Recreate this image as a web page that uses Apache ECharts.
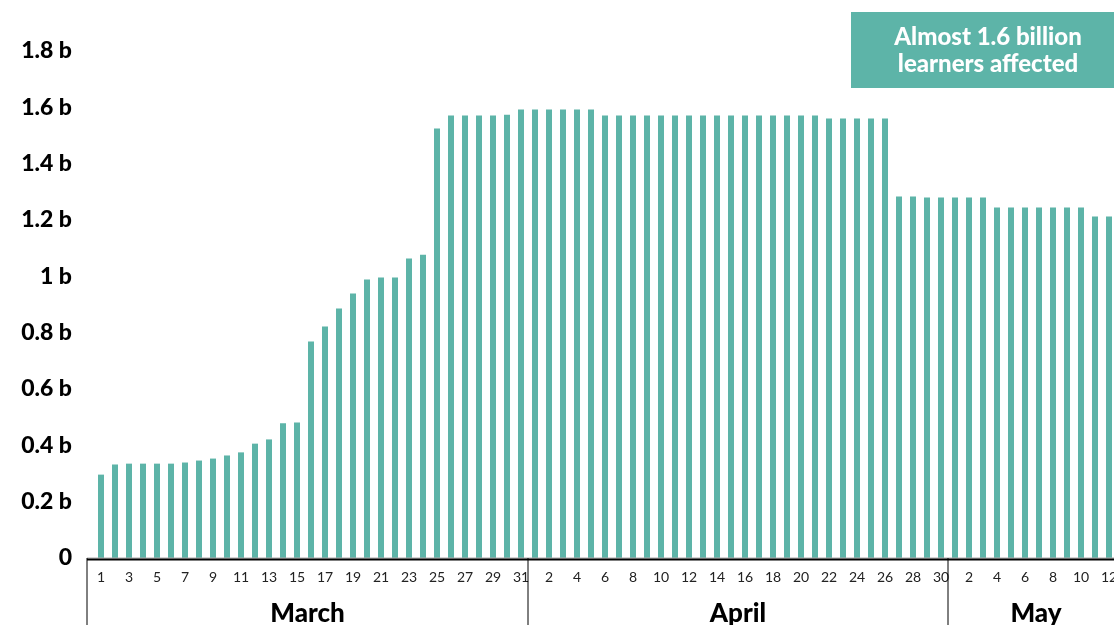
<!DOCTYPE html>
<html>
<head>
<meta charset="utf-8">
<script src="https://cdn.jsdelivr.net/npm/echarts@6/dist/echarts.min.js"></script>
<style>
html,body{margin:0;padding:0;background:#fff;}
#chart{width:1114px;height:625px;}
</style>
</head>
<body>
<div id="chart"></div>
<script>
// ---- data (billions of learners affected) ----
const months = ['March', 'April', 'May'];
const marchValues = [0.296,0.332,0.335,0.335,0.335,0.335,0.339,0.346,0.353,0.364,0.375,0.406,0.421,0.478,0.481,0.769,0.822,0.886,0.939,0.989,0.996,0.996,1.063,1.077,1.525,1.571,1.571,1.571,1.571,1.574,1.592];
const aprilValues = [1.592,1.592,1.592,1.592,1.592,1.571,1.571,1.571,1.571,1.571,1.571,1.571,1.571,1.571,1.571,1.571,1.571,1.571,1.571,1.571,1.571,1.560,1.560,1.560,1.560,1.560,1.283,1.283,1.280,1.280];
const mayValues = [1.280,1.280,1.280,1.244,1.244,1.244,1.244,1.244,1.244,1.244,1.212,1.212];
const yTicks = [0, 0.2, 0.4, 0.6, 0.8, 1, 1.2, 1.4, 1.6, 1.8];
const annotationText = 'Almost 1.6 billion\nlearners affected';

const monthSeries = [marchValues, aprilValues, mayValues];
const categories = [];   // day numbers
const monthIndex = [];   // month of each category
const values = [];
monthSeries.forEach((arr, m) => {
  arr.forEach((v, i) => {
    categories.push(String(i + 1));
    monthIndex.push(m);
    values.push(v);
  });
});

const TEAL = '#5db4a8';
const FONT = 'Lato, "Open Sans", sans-serif';

const chart = echarts.init(document.getElementById('chart'));
const option = {
  animation: false,
  grid: { left: 94, right: -2, top: 51, bottom: 67, containLabel: false, outerBoundsMode: 'none' },
  xAxis: {
    type: 'category',
    data: categories,
    boundaryGap: true,
    axisLine: { show: false },
    axisTick: { show: false },
    axisLabel: {
      interval: function (idx, val) {
        const d = parseInt(val, 10);
        return monthIndex[idx] === 0 ? (d % 2 === 1) : (d % 2 === 0);
      },
      margin: 12,
      fontFamily: FONT,
      fontSize: 14,
      color: '#222',
      hideOverlap: false
    }
  },
  yAxis: {
    type: 'value',
    min: 0,
    max: yTicks[yTicks.length - 1],
    interval: 0.2,
    splitLine: { show: false },
    axisLine: { show: false },
    axisTick: { show: false },
    axisLabel: {
      margin: 22,
      fontFamily: FONT,
      fontWeight: 900,
      fontSize: 23,
      color: '#000',
      formatter: function (v) {
        const r = Math.round(v * 10) / 10;
        return r === 0 ? '0' : r + ' b';
      }
    }
  },
  series: [{
    type: 'bar',
    data: values,
    barWidth: 6,
    itemStyle: { color: TEAL },
    silent: true
  }]
};
chart.setOption(option);

// ---- month separators, axis line, month labels, annotation ----
function buildGraphics() {
  const half = 7;
  const xAt = (i) => chart.convertToPixel({ xAxisIndex: 0 }, i);
  const y0 = chart.convertToPixel({ yAxisIndex: 0 }, 0);
  const firstX = xAt(0) - 2 * half;
  const lastX = xAt(values.length - 1) + half + 10;
  const g = [];
  g.push({ type: 'line', shape: { x1: firstX, y1: y0, x2: lastX, y2: y0 }, style: { stroke: '#aaa', lineWidth: 1 }, z: 10 });
  g.push({ type: 'line', shape: { x1: firstX, y1: y0 + 1.5, x2: lastX, y2: y0 + 1.5 }, style: { stroke: '#000', lineWidth: 2 }, z: 10 });
  let start = 0;
  monthSeries.forEach((arr, m) => {
    const end = start + arr.length - 1;
    const left = m === 0 ? firstX : xAt(start) - half;
    const right = xAt(end) + half;
    g.push({ type: 'line', shape: { x1: left, y1: y0, x2: left, y2: 625 }, style: { stroke: '#000', lineWidth: 1 }, z: 10 });
    g.push({
      type: 'text',
      x: (left + right) / 2 + (m === 2 ? 4 : 0),
      y: 614,
      style: {
        text: months[m],
        fontFamily: FONT,
        fontWeight: 900,
        fontSize: 26,
        fill: '#000',
        align: 'center',
        verticalAlign: 'middle'
      },
      z: 10
    });
    start = end + 1;
  });
  g.push({ type: 'rect', shape: { x: 851, y: 12, width: 270, height: 76 }, style: { fill: TEAL }, z: 20 });
  g.push({
    type: 'text',
    x: 988, y: 51,
    style: {
      text: annotationText,
      fontFamily: FONT,
      fontWeight: 900,
      fontSize: 24,
      lineHeight: 27,
      fill: '#fff',
      align: 'center',
      verticalAlign: 'middle'
    },
    z: 21
  });
  chart.setOption({ graphic: g });
}
buildGraphics();
</script>
</body>
</html>
